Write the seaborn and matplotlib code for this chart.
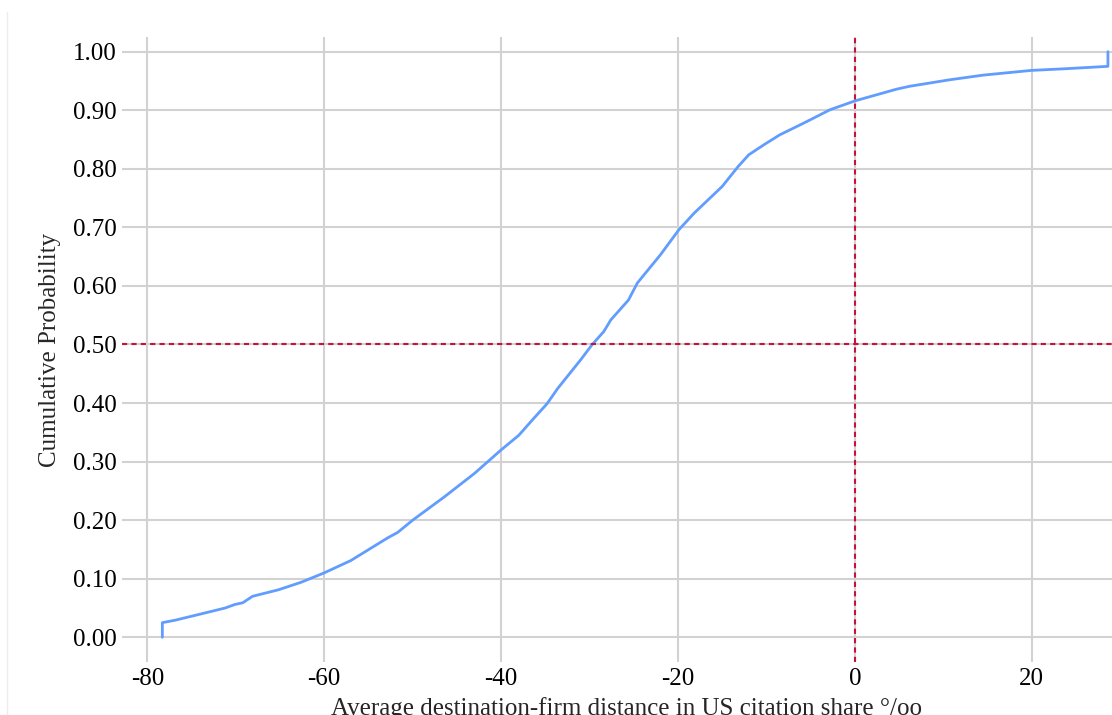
import pandas as pd
import matplotlib.pyplot as plt
import matplotlib.lines as mlines
import seaborn as sns

# Cumulative distribution (x in per-mille, y = cumulative share)
distance = [-78.3, -78.3, -76.9, -73.9, -71.2, -70.1, -69.2, -68.1, -65.2, -62.6,
            -60.0, -57.0, -52.8, -51.7, -50.0, -46.4, -43.0, -40.0, -38.0, -36.3,
            -34.8, -33.6, -31.0, -29.7, -28.4, -27.6, -25.6, -24.6, -22.0, -19.9,
            -18.2, -15.0, -13.2, -12.0, -10.3, -8.5, -5.8, -2.8, -1.3, 0.0,
            4.7, 6.2, 10.7, 14.5, 19.9, 23.9, 28.6, 28.6]
cum_prob = [0.000, 0.025, 0.029, 0.040, 0.050, 0.056, 0.059, 0.070, 0.081, 0.094,
            0.110, 0.131, 0.170, 0.179, 0.200, 0.240, 0.280, 0.320, 0.345, 0.374,
            0.399, 0.425, 0.474, 0.500, 0.522, 0.542, 0.576, 0.605, 0.653, 0.696,
            0.724, 0.770, 0.804, 0.824, 0.841, 0.858, 0.878, 0.901, 0.909, 0.916,
            0.936, 0.941, 0.952, 0.960, 0.968, 0.971, 0.975, 1.000]

x_ticks = [-80, -60, -40, -20, 0, 20]
y_ticks = [0.0, 0.1, 0.2, 0.3, 0.4, 0.5, 0.6, 0.7, 0.8, 0.9, 1.0]
ref_x = 0
ref_y = 0.5

df = pd.DataFrame({'distance': distance, 'cum_prob': cum_prob})

sns.set_style('whitegrid')
plt.rcParams['font.family'] = ['Liberation Serif', 'DejaVu Serif']

fig = plt.figure(figsize=(11.12, 7.15), dpi=100)
ax = fig.add_axes([122 / 1112, 53 / 715, 990 / 1112, 625 / 715])

sns.lineplot(data=df, x='distance', y='cum_prob', estimator=None, sort=False,
             color='#619cff', linewidth=2.0, ax=ax)

# reference lines at zero distance and the median
ax.axvline(ref_x, color='#c8103c', linewidth=1.5, dashes=(2.5, 2))
ax.axhline(ref_y, color='#c8103c', linewidth=1.5, dashes=(2.5, 2))

ax.set_xlim(-82.86, 29.06)
ax.set_ylim(-0.0422, 1.0251)
ax.set_xticks(x_ticks)
ax.set_xticklabels([str(v) for v in x_ticks])
ax.set_yticks(y_ticks)
ax.set_yticklabels([f'{v:.2f}' for v in y_ticks])
ax.grid(True, color='#d2d2d2', linewidth=1.5)
ax.tick_params(axis='both', length=0, labelsize=18, colors='black', pad=4)
for s in ax.spines.values():
    s.set_visible(False)

ax.set_xlabel('Average destination-firm distance in US citation share °/oo', fontsize=18)
ax.set_ylabel('Cumulative Probability', fontsize=18)
ax.xaxis.set_label_coords(0.51, -0.056)
ax.yaxis.set_label_coords(-0.062, 0.5)

# faint frame edge on the left side of the original image
fig.add_artist(mlines.Line2D([7 / 1112, 7 / 1112], [0, 703 / 715], color='#ececec', linewidth=1))

fig.savefig('out.png', dpi=100)
